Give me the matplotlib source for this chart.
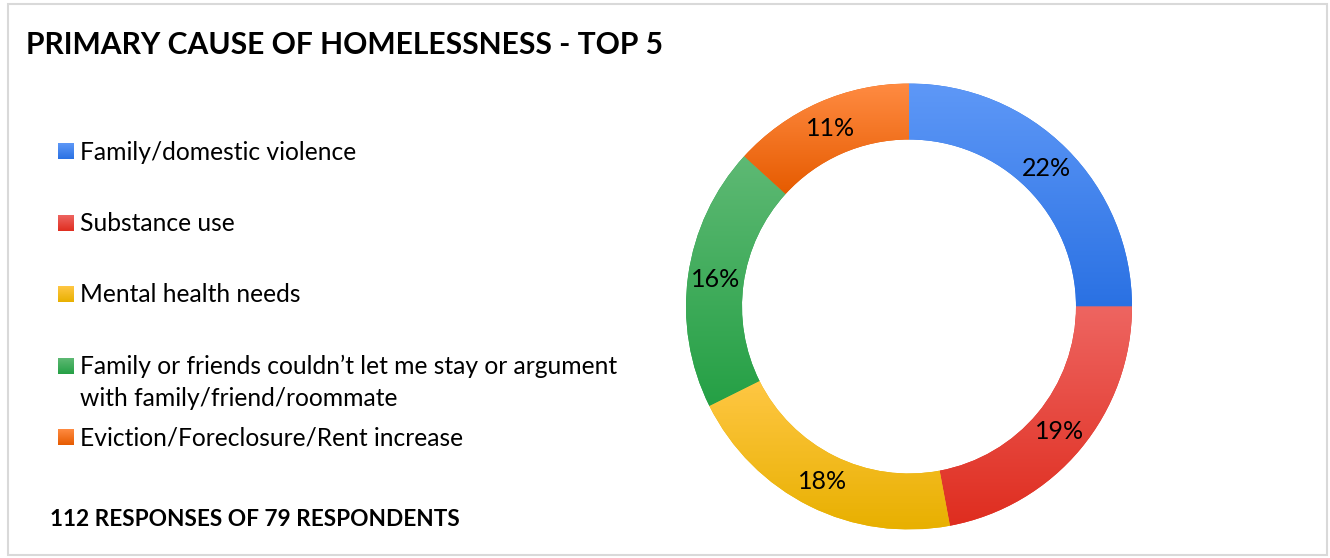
import numpy as np
import matplotlib
matplotlib.use("Agg")
import matplotlib.pyplot as plt
from matplotlib.patches import Rectangle
from matplotlib.colors import LinearSegmentedColormap

plt.rcParams['font.family'] = ['Lato', 'DejaVu Sans']

# ---- data ----
title = "PRIMARY CAUSE OF HOMELESSNESS - TOP 5"
footnote = "112 RESPONSES OF 79 RESPONDENTS"
categories = [
    ["Family/domestic violence"],
    ["Substance use"],
    ["Mental health needs"],
    ["Family or friends couldn\u2019t let me stay or argument",
     "with family/friend/roommate"],
    ["Eviction/Foreclosure/Rent increase"],
]
counts = [17, 15, 14, 13, 9]
respondents = 79

# light (top) -> dark (bottom) fill for each slice
grad_top = ["#5E98F7", "#EE6561", "#FFC744", "#5EB974", "#FF8B42"]
grad_bot = ["#2A71E3", "#DF2D1F", "#E8B000", "#25A045", "#E65B00"]

W, H = 1330, 558
fig = plt.figure(figsize=(W / 100, H / 100), dpi=100)
fig.patch.set_facecolor("white")

# full-figure overlay in pixel units for text, legend and frame
ov = fig.add_axes([0, 0, 1, 1])
ov.set_xlim(0, W)
ov.set_ylim(H, 0)
ov.axis("off")

ov.add_patch(Rectangle((8, 4), 1319, 551, fill=False, edgecolor="#D9D9D9", lw=1.5))

ov.text(26, 53.5, title, fontsize=21.6, fontweight="bold", color="black",
        ha="left", va="baseline")
ov.text(50, 526, footnote, fontsize=16.3, fontweight="bold", color="black",
        ha="left", va="baseline")


def grad_cmap(i):
    return LinearSegmentedColormap.from_list(f"g{i}", [grad_top[i], grad_bot[i]])


vgrad = np.linspace(0, 1, 256).reshape(-1, 1)

# legend
baselines = [159.5, 231, 302.5, 374, 445.5]
line_step = 31.7
for i, (lines, yb) in enumerate(zip(categories, baselines)):
    ov.imshow(vgrad, cmap=grad_cmap(i), extent=(57.5, 73, yb, yb - 15.5),
              aspect="auto", interpolation="bicubic", zorder=2)
    for k, line in enumerate(lines):
        ov.text(79.5, yb + k * line_step, line, fontsize=17.7, color="black",
                ha="left", va="baseline")
ov.set_xlim(0, W)
ov.set_ylim(H, 0)

# donut
cx, cy, R = 909, 306.5, 223
ax = fig.add_axes([(cx - R) / W, (H - cy - R) / H, 2 * R / W, 2 * R / H])
ring = 56 / R
wedges, _ = ax.pie(counts, startangle=90, counterclock=False, radius=1,
                   wedgeprops=dict(width=ring, linewidth=0, edgecolor="none"),
                   frame=True)
ax.set_xlim(-1, 1)
ax.set_ylim(-1, 1)
ax.axis("off")

for i, w in enumerate(wedges):
    w.set_facecolor(grad_bot[i])
    ext = w.get_path().get_extents()
    im = ax.imshow(vgrad, cmap=grad_cmap(i),
                   extent=(ext.x0, ext.x1, ext.y0, ext.y1),
                   origin="upper", aspect="auto", interpolation="bicubic",
                   zorder=2)
    im.set_clip_path(w)
    ang = np.deg2rad((w.theta1 + w.theta2) / 2)
    rr = 1 - ring / 2
    pct = round(100 * counts[i] / respondents)
    ax.text(rr * np.cos(ang), rr * np.sin(ang), f"{pct}%", fontsize=18,
            ha="center", va="center", color="black", zorder=3)
ax.set_xlim(-1, 1)
ax.set_ylim(-1, 1)

fig.savefig("out.png", dpi=100, facecolor="white")
